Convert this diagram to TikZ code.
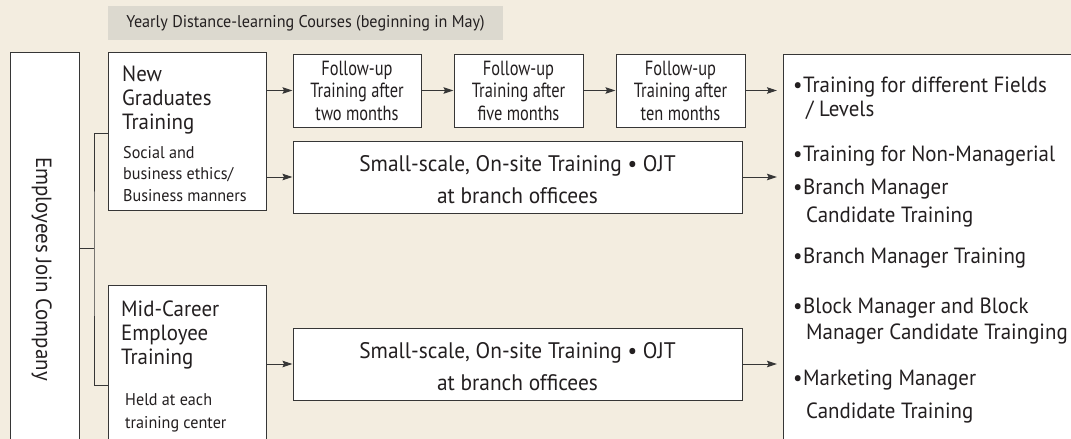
\documentclass[tikz,border=0pt]{standalone}
\usepackage{fontspec}
\setmainfont[FakeStretch=0.95]{PT Sans}
\newfontfamily\narrowfont[FakeStretch=0.8]{PT Sans}
\usetikzlibrary{positioning,arrows.meta}
\definecolor{paper}{HTML}{F3EDE0}
\definecolor{tagfill}{HTML}{DCD9CF}
\definecolor{ink}{HTML}{363636}
\definecolor{type}{HTML}{231F20}
\newcommand{\bul}{\hbox to 10pt{\textbullet\hss}}

\begin{document}
\begin{tikzpicture}
	[x=1pt,y=-1pt,
	box/.style={draw=ink,fill=white,line width=1pt,inner sep=0pt},
	link/.style={-{Stealth[length=10pt,width=6.5pt,inset=1.5pt]},draw=ink,line width=1pt},
	line/.style={draw=ink,line width=1pt},
	txt/.style={inner sep=0pt,text=type,align=left}]
	% draw the paper
	\fill[paper] (0,0) rectangle (1071,439);
	\useasboundingbox (0,0) rectangle (1071,439);
	\clip (0,0) rectangle (1071,439);

	% draw the heading tag
	\node [fill=tagfill,inner sep=0pt,minimum width=395,minimum height=34,text=type,font=\fontsize{17}{20}\selectfont] (tag) at (305.5,23) {Yearly Distance-learning Courses (beginning in May)};

	% draw the left column
	\node [box,anchor=north west,minimum width=69,minimum height=420] (join) at (9.5,52) {};
	\node [txt,rotate=-90,anchor=base,font=\fontsize{22}{26}\selectfont] (jointxt) at (36,269) {Employees Join Company};

	% draw the two entry boxes
	\node [box,anchor=north west,minimum width=158,minimum height=158] (ng) at (108,52) {};
	\node [txt,anchor=north west,font=\fontsize{22}{24}\selectfont] (ngtitle) at (122,66) {New\\Graduates\\Training};
	\node [txt,anchor=north west,font=\fontsize{17}{21.5}\selectfont] (ngnote) at (123,146) {Social and\\business ethics/\\Business manners};
	\node [box,anchor=north west,minimum width=158,minimum height=180] (mc) at (108,285) {};
	\node [txt,anchor=north west,font=\fontsize{22}{24}\selectfont] (mctitle) at (121,301) {Mid-Career\\Employee\\Training};
	\node [txt,anchor=north west,font=\fontsize{17}{23}\selectfont] (mcnote) at (125,393) {Held at each\\training center};

	% draw the follow-up boxes
	\node [box,align=center,minimum width=128,minimum height=73,text=type,font=\narrowfont\fontsize{20.5}{22.5}\selectfont] (fu1) at (357,90.5) {Follow-up\\Training after\\two months};
	\node [box,align=center,minimum width=129,minimum height=73,text=type,font=\narrowfont\fontsize{20.5}{22.5}\selectfont,right=32pt of fu1] (fu2) {Follow-up\\Training after\\five months};
	\node [box,align=center,minimum width=129,minimum height=73,text=type,font=\narrowfont\fontsize{20.5}{22.5}\selectfont,right=32pt of fu2] (fu3) {Follow-up\\Training after\\ten months};

	% draw the on-site boxes
	\node [box,minimum width=449,minimum height=72] (ss1) at (517.5,177) {};
	\node [txt,align=center,font=\fontsize{22.5}{32}\selectfont] (ss1txt) at ([yshift=-3pt]ss1.center) {Small-scale, On-site Training \textbullet{} OJT\\at branch officees};
	\node [box,minimum width=449,minimum height=72] (ss2) at (517.5,364) {};
	\node [txt,align=center,font=\fontsize{22.5}{32}\selectfont] (ss2txt) at ([yshift=-3pt]ss2.center) {Small-scale, On-site Training \textbullet{} OJT\\at branch officees};

	% draw the goal box
	\node [box,anchor=north west,minimum width=320,minimum height=420] (goal) at (783,54) {};
	\node [txt,anchor=north west,font=\fontsize{22}{24}\selectfont] (g1) at (793,77) {\bul Training for different Fields\\\hspace*{13pt}/ Levels};
	\node [txt,anchor=north west,font=\fontsize{22}{24}\selectfont] (g2) at (793,146) {\bul Training for Non-Managerial};
	\node [txt,anchor=north west,font=\fontsize{22}{28}\selectfont] (g3) at (793,179) {\bul Branch Manager\\\hspace*{13pt}Candidate Training};
	\node [txt,anchor=north west,font=\fontsize{22}{24}\selectfont] (g4) at (793,248) {\bul Branch Manager Training};
	\node [txt,anchor=north west,font=\fontsize{22}{26}\selectfont] (g5) at (793,298) {\bul Block Manager and Block\\\hspace*{13pt}Manager Candidate Trainging};
	\node [txt,anchor=north west,font=\fontsize{22}{33}\selectfont] (g6) at (793,370) {\bul Marketing Manager\\\hspace*{13pt}Candidate Training};

	% draw the bracket
	\coordinate (fork) at (94,248);
	\draw [line] (join.east |- fork) -- (fork);
	\draw [line] (ng.west |- 0,133) -| (fork) |- (mc.west |- 0,385);

	% draw the arrows
	\draw [link] (ng.east |- fu1.west) -- (fu1.west);
	\draw [link] (fu1) -- (fu2);
	\draw [link] (fu2) -- (fu3);
	\draw [link,shorten >=6pt] (fu3.east) -- (fu3.east -| goal.west);
	\draw [link] (ng.east |- ss1.west) -- (ss1.west);
	\draw [link,shorten >=6pt] (ss1.east) -- (ss1.east -| goal.west);
	\draw [link] (mc.east |- ss2.west) -- (ss2.west);
	\draw [link,shorten >=6pt] (ss2.east) -- (ss2.east -| goal.west);
\end{tikzpicture}
\end{document}
